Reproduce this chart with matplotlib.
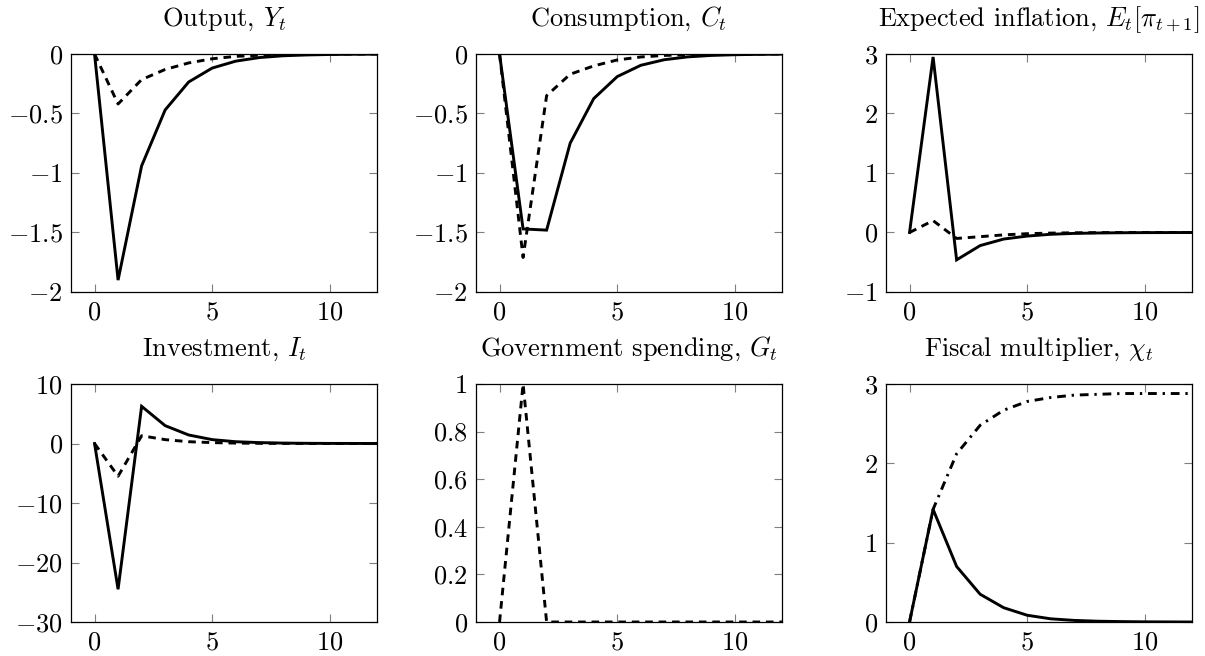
import numpy as np
import matplotlib
matplotlib.use("Agg")
import matplotlib.pyplot as plt

plt.rcParams['font.family'] = 'serif'
plt.rcParams['font.serif'] = ['cmr10']
plt.rcParams['mathtext.fontset'] = 'cm'
plt.rcParams['axes.formatter.use_mathtext'] = True
plt.rcParams['axes.unicode_minus'] = True

t = np.arange(0, 13)

output_solid = [0, -1.9, -0.94, -0.47, -0.235, -0.118, -0.06, -0.03, -0.015, -0.008, -0.004, -0.002, -0.001]
output_dashed = [0, -0.42, -0.215, -0.13, -0.075, -0.04, -0.02, -0.01, -0.005, -0.002, -0.001, 0, 0]

cons_solid = [0, -1.47, -1.48, -0.75, -0.375, -0.19, -0.095, -0.048, -0.024, -0.012, -0.006, -0.003, -0.001]
cons_dashed = [0, -1.71, -0.35, -0.17, -0.1, -0.05, -0.025, -0.012, -0.006, -0.003, -0.001, 0, 0]

infl_solid = [0, 2.95, -0.46, -0.22, -0.11, -0.06, -0.03, -0.015, -0.008, -0.004, -0.002, -0.001, 0]
infl_dashed = [0, 0.2, -0.1, -0.07, -0.04, -0.02, -0.01, -0.005, -0.002, -0.001, 0, 0, 0]

inv_solid = [0, -24.5, 6.25, 3.0, 1.43, 0.65, 0.3, 0.15, 0.07, 0.03, 0.015, 0.007, 0.003]
inv_dashed = [0, -5.5, 1.3, 0.65, 0.3, 0.15, 0.07, 0.03, 0.015, 0.007, 0.003, 0.001, 0]

gov_dashed = [0, 1.0, 0, 0, 0, 0, 0, 0, 0, 0, 0, 0, 0]

mult_solid = [0, 1.42, 0.70, 0.35, 0.18, 0.085, 0.04, 0.02, 0.01, 0.005, 0.002, 0.001, 0]
mult_cumul = [0, 1.42, 2.12, 2.48, 2.67, 2.78, 2.83, 2.86, 2.87, 2.88, 2.88, 2.88, 2.88]

titles = [r"Output, $Y_t$", r"Consumption, $C_t$", r"Expected inflation, $E_t[\pi_{t+1}]$",
          r"Investment, $I_t$", r"Government spending, $G_t$", r"Fiscal multiplier, $\chi_t$"]
ylims = [(-2, 0), (-2, 0), (-1, 3), (-30, 10), (0, 1), (0, 3)]
yticks = [[-2, -1.5, -1, -0.5, 0], [-2, -1.5, -1, -0.5, 0], [-1, 0, 1, 2, 3],
          [-30, -20, -10, 0, 10], [0, 0.2, 0.4, 0.6, 0.8, 1], [0, 1, 2, 3]]

fig = plt.figure(figsize=(12.05, 6.56), dpi=100)
W, H = 1205, 656
lefts = [71, 476, 886]
width = 306
tops = [54, 384]
height = 238

axes = []
for r in range(2):
    for c in range(3):
        ax = fig.add_axes([lefts[c] / W, 1 - (tops[r] + height) / H, width / W, height / H])
        axes.append(ax)

LW = 2.1
DASH = (2.6, 2.0)
DASHDOT = (3.0, 2.0, 0.8, 2.0)

def solid(ax, y):
    ax.plot(t, y, color='black', lw=LW, solid_joinstyle='miter')

def dashed(ax, y):
    l, = ax.plot(t, y, color='black', lw=LW)
    l.set_dashes(DASH)

solid(axes[0], output_solid); dashed(axes[0], output_dashed)
solid(axes[1], cons_solid); dashed(axes[1], cons_dashed)
solid(axes[2], infl_solid); dashed(axes[2], infl_dashed)
solid(axes[3], inv_solid); dashed(axes[3], inv_dashed)
dashed(axes[4], gov_dashed)
l, = axes[5].plot(t, mult_cumul, color='black', lw=LW)
l.set_dashes(DASHDOT)
solid(axes[5], mult_solid)

def fmt(v):
    if float(v).is_integer():
        return str(int(v))
    return '%g' % v

for i, ax in enumerate(axes):
    ax.set_xlim(-1, 12)
    ax.set_ylim(*ylims[i])
    ax.set_xticks([0, 5, 10])
    ax.set_yticks(yticks[i])
    ax.set_yticklabels(['$' + fmt(v) + '$' for v in yticks[i]])
    ax.set_xticklabels(['$0$', '$5$', '$10$'])
    ax.tick_params(direction='in', length=6, width=0.8, color='#7f7f7f',
                   top=True, right=True, labelsize=19, pad=6)
    for s in ax.spines.values():
        s.set_linewidth(0.9)
        s.set_color('black')
    ax.set_title(titles[i], fontsize=19, pad=20)

fig.savefig('out.png', dpi=100)
